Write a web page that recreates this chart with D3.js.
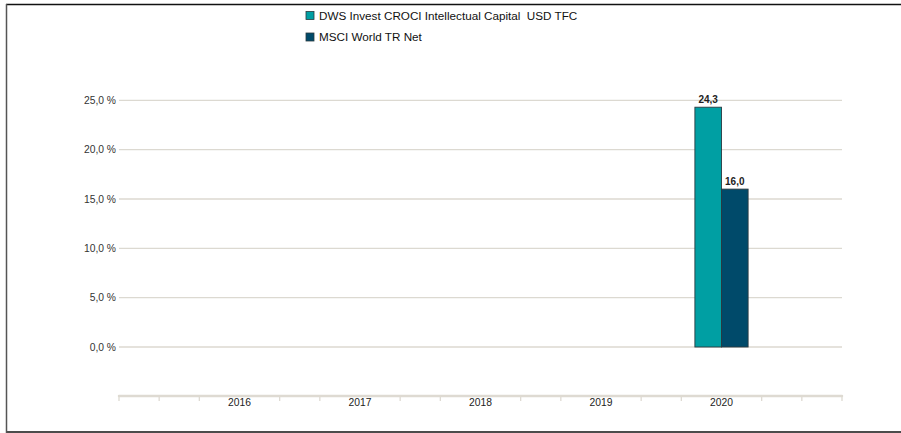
<!DOCTYPE html>
<html><head><meta charset="utf-8">
<script src="https://cdn.jsdelivr.net/npm/d3@7"></script>
<style>body{margin:0;background:#fff}svg{display:block;font-family:"Liberation Sans",Arial,sans-serif}</style>
</head><body>
<svg id="c" width="901" height="433"></svg>
<script>
const categories = ["2016","2017","2018","2019","2020"];
const seriesNames = ["DWS Invest CROCI Intellectual Capital  USD TFC","MSCI World TR Net"];
const fundValues = [null,null,null,null,24.3];
const indexValues = [null,null,null,null,16.0];
const yTicks = [0,5,10,15,20,25];
const colors = ["#009fa3","#004a6a"];

const svg = d3.select("#c");
// frame
svg.append("line").attr("x1",6).attr("x2",901).attr("y1",4.5).attr("y2",4.5).attr("stroke","#111").attr("stroke-width",1.6);
svg.append("line").attr("x1",6).attr("x2",901).attr("y1",432).attr("y2",432).attr("stroke","#111").attr("stroke-width",1.6);
svg.append("line").attr("x1",6.5).attr("x2",6.5).attr("y1",4).attr("y2",433).attr("stroke","#555").attr("stroke-width",1.5);

const x0 = 119, x1 = 842;
const xPts = d3.scalePoint().domain(["_a",...categories,"_b"]).range([x0,x1]);
const step = xPts.step();
const y = d3.scaleLinear().domain([0,25]).range([347,100.3]);

// gridlines
svg.append("g").selectAll("line").data(yTicks).join("line")
  .attr("x1",x0).attr("x2",x1).attr("y1",d=>y(d)).attr("y2",d=>y(d))
  .attr("stroke","#dcd9d1").attr("stroke-width",1.3);
// y labels
svg.append("g").selectAll("text").data(yTicks).join("text")
  .attr("x",116).attr("y",d=>y(d)).attr("dy","0.35em").attr("text-anchor","end")
  .attr("font-size",10.3).attr("fill","#333")
  .text(d=>d3.format(".1f")(d).replace(".",",")+" %");

// bars
const bw = 26.6;
const series = [fundValues, indexValues];
series.forEach((vals,si)=>{
  const data = categories.map((c,i)=>({c,v:vals[i]})).filter(d=>d.v!=null);
  const g = svg.append("g");
  g.selectAll("rect").data(data).join("rect")
    .attr("x",d=>xPts(d.c)-bw+si*bw).attr("width",bw)
    .attr("y",d=>y(d.v)).attr("height",d=>y(0)-y(d.v))
    .attr("fill",colors[si]).attr("stroke","#2a3a40").attr("stroke-width",0.9);
  g.selectAll("text").data(data).join("text")
    .attr("x",d=>xPts(d.c)-bw/2+si*bw).attr("y",d=>y(d.v)-4)
    .attr("text-anchor","middle").attr("font-size",10).attr("font-weight","bold").attr("fill","#222")
    .text(d=>d3.format(".1f")(d.v).replace(".",","));
});

// x axis
const axY = 396;
svg.append("line").attr("x1",x0).attr("x2",x1).attr("y1",axY).attr("y2",axY)
  .attr("stroke","#dedad2").attr("stroke-width",2.5).attr("stroke-linecap","round");
const minor = [];
for(let i=0;i<=(categories.length+1)*3;i++){
  if(i%3===0 && i>0 && i<(categories.length+1)*3) continue;
  minor.push(x0 + i*step/3);
}
svg.append("g").selectAll("line").data(minor).join("line")
  .attr("x1",d=>d).attr("x2",d=>d).attr("y1",axY).attr("y2",axY+5)
  .attr("stroke","#dedad2").attr("stroke-width",1.3);
svg.append("g").selectAll("text").data(categories).join("text")
  .attr("x",d=>xPts(d)).attr("y",axY+10).attr("text-anchor","middle")
  .attr("font-size",10.3).attr("fill","#222").text(d=>d);

// legend
const lg = svg.append("g");
seriesNames.forEach((n,i)=>{
  const ly = 15.5 + i*21.5;
  lg.append("rect").attr("x",306).attr("y",ly-4).attr("width",8).attr("height",8)
    .attr("fill",colors[i]).attr("stroke","#2a3a40").attr("stroke-width",0.8);
  lg.append("text").attr("x",319).attr("y",ly).attr("dy","0.35em")
    .attr("font-size",11.7).attr("fill","#111").style("white-space","pre").text(n);
});
</script>
</body></html>
